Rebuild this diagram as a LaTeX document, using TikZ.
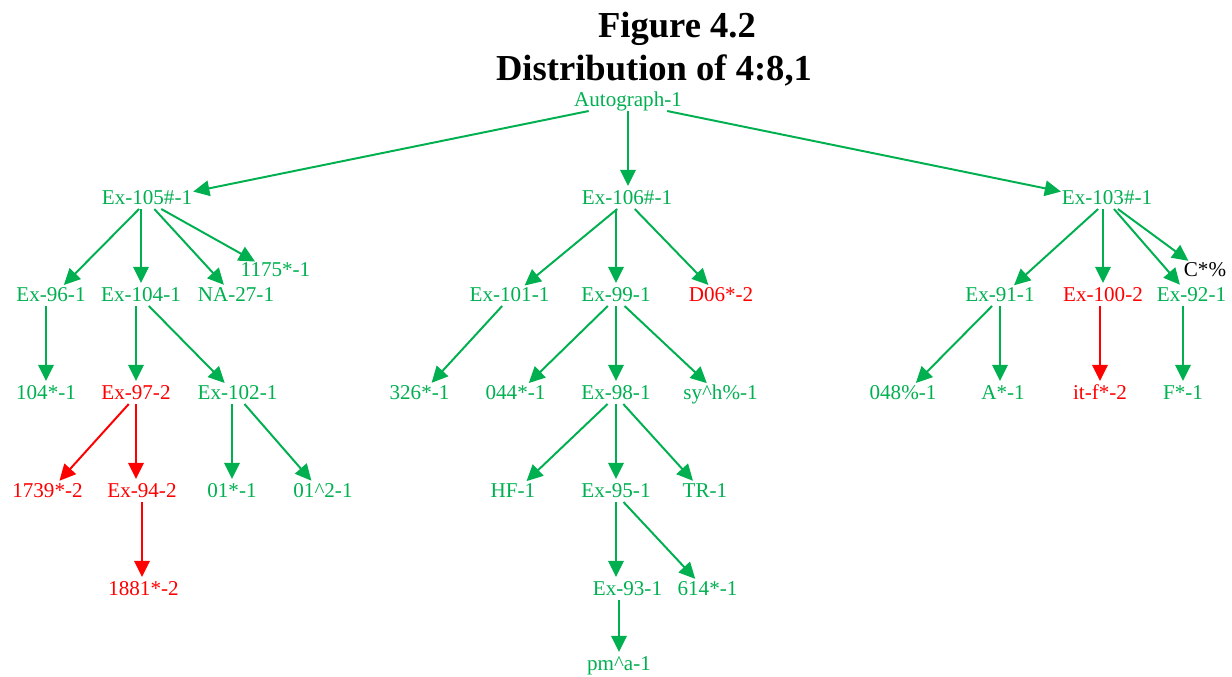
\documentclass[tikz,border=0pt]{standalone}
\usepackage{fontspec}
\setmainfont{Liberation Serif}
\usepackage{tikz}
\usetikzlibrary{arrows.meta}

\definecolor{treegreen}{HTML}{00B050}
\definecolor{treered}{HTML}{FF0000}

\begin{document}
\begin{tikzpicture}[
    x=0.025cm, y=-0.025cm,
    gnode/.style={text=treegreen, font=\fontsize{15}{18}\selectfont,
        inner xsep=2pt, inner ysep=1pt, text height=0.7em, text depth=0.2em},
    rnode/.style={gnode, text=treered},
    knode/.style={gnode, text=black},
    heading/.style={font=\bfseries\fontsize{26}{30}\selectfont, anchor=base},
    gedge/.style={-{Triangle[length=11.5pt, width=11pt]}, draw=treegreen,
        line width=1.4pt, shorten >=5pt},
    redge/.style={gedge, draw=treered}
]
    \useasboundingbox (0,0) rectangle (1232,677);

    % Title
    \node[heading] (fig) at (677,37) {Figure 4.2};
    \node[heading] (dist) at (654,80) {Distribution of 4:8,1};

    % Root
    \node[gnode] (auto) at (628,103) {Autograph-1};

    % First level
    \node[gnode] (ex105) at (147,201) {Ex-105\#-1};
    \node[gnode] (ex106) at (627,201) {Ex-106\#-1};
    \node[gnode] (ex103) at (1107,201) {Ex-103\#-1};

    % Second level
    \node[gnode] (ex96)  at (51,298)    {Ex-96-1};
    \node[gnode] (ex104) at (141,298)   {Ex-104-1};
    \node[gnode] (na27)  at (236,298)   {NA-27-1};
    \node[gnode] (n1175) at (275.5,273) {1175*-1};
    \node[gnode] (ex101) at (509.5,298) {Ex-101-1};
    \node[gnode] (ex99)  at (616,298)   {Ex-99-1};
    \node[rnode] (d06)   at (721,298)   {D06*-2};
    \node[gnode] (ex91)  at (1000,298)  {Ex-91-1};
    \node[rnode] (ex100) at (1103,298)  {Ex-100-2};
    \node[gnode] (ex92)  at (1191.5,298) {Ex-92-1};
    \node[knode] (cpct)  at (1205,273)  {C*\%};

    % Third level
    \node[gnode] (s104)  at (46,396)    {104*-1};
    \node[rnode] (ex97)  at (136,396)   {Ex-97-2};
    \node[gnode] (ex102) at (237.5,396) {Ex-102-1};
    \node[gnode] (s326)  at (419.5,396) {326*-1};
    \node[gnode] (s044)  at (515.5,396) {044*-1};
    \node[gnode] (ex98)  at (616,396)   {Ex-98-1};
    \node[gnode] (syh)   at (720.5,396) {sy\textasciicircum h\%-1};
    \node[gnode] (s048)  at (903,396)   {048\%-1};
    \node[gnode] (astar) at (1003,396)  {A*-1};
    \node[rnode] (itf)   at (1100,396)  {it-f*-2};
    \node[gnode] (fstar) at (1183,396)  {F*-1};

    % Fourth level
    \node[rnode] (s1739) at (47.5,494)  {1739*-2};
    \node[rnode] (ex94)  at (142,494)   {Ex-94-2};
    \node[gnode] (s01)   at (232,494)   {01*-1};
    \node[gnode] (s012)  at (323,494)   {01\textasciicircum 2-1};
    \node[gnode] (hf)    at (513,494)   {HF-1};
    \node[gnode] (ex95)  at (616,494)   {Ex-95-1};
    \node[gnode] (tr)    at (705,494)   {TR-1};

    % Fifth and sixth level
    \node[rnode] (s1881) at (143.5,592) {1881*-2};
    \node[gnode] (ex93)  at (627.5,592) {Ex-93-1};
    \node[gnode] (s614)  at (707.5,592) {614*-1};
    \node[gnode] (pma)   at (619,667)   {pm\textasciicircum a-1};

    % Edges (straight down ones are kept vertical)
    \draw[gedge] (auto) -- (ex105);
    \draw[gedge] (auto) -- (auto |- ex106.north);
    \draw[gedge] (auto) -- (ex103);

    \draw[gedge] (ex105) -- (ex96);
    \draw[gedge] (ex105.south -| ex104) -- (ex104);
    \draw[gedge] (ex105) -- (na27);
    \draw[gedge] (ex105) -- (n1175);
    \draw[gedge] (ex96.south -| s104) -- (s104);
    \draw[gedge] (ex104.south -| ex97) -- (ex97);
    \draw[gedge] (ex104) -- (ex102);
    \draw[redge] (ex97) -- (s1739);
    \draw[redge] (ex97) -- (ex97 |- ex94.north);
    \draw[redge] (ex94) -- (ex94 |- s1881.north);
    \draw[gedge] (ex102.south -| s01) -- (s01);
    \draw[gedge] (ex102) -- (s012);

    \draw[gedge] (ex106) -- (ex101);
    \draw[gedge] (ex106.south -| ex99) -- (ex99);
    \draw[gedge] (ex106) -- (d06);
    \draw[gedge] (ex101) -- (s326);
    \draw[gedge] (ex99) -- (s044);
    \draw[gedge] (ex99) -- (ex98);
    \draw[gedge] (ex99) -- (syh);
    \draw[gedge] (ex98) -- (hf);
    \draw[gedge] (ex98) -- (ex95);
    \draw[gedge] (ex98) -- (tr);
    \draw[gedge] (ex95) -- (ex95 |- ex93.north);
    \draw[gedge] (ex95) -- (s614);
    \draw[gedge] (ex93.south -| pma) -- (pma);

    \draw[gedge] (ex103) -- (ex91);
    \draw[gedge] (ex103.south -| ex100) -- (ex100);
    \draw[gedge] (ex103) -- (ex92);
    \draw[gedge] (ex103) -- (cpct);
    \draw[gedge] (ex91) -- (s048);
    \draw[gedge] (ex91) -- (ex91 |- astar.north);
    \draw[redge] (ex100.south -| itf) -- (itf);
    \draw[gedge] (ex92.south -| fstar) -- (fstar);

\end{tikzpicture}
\end{document}
